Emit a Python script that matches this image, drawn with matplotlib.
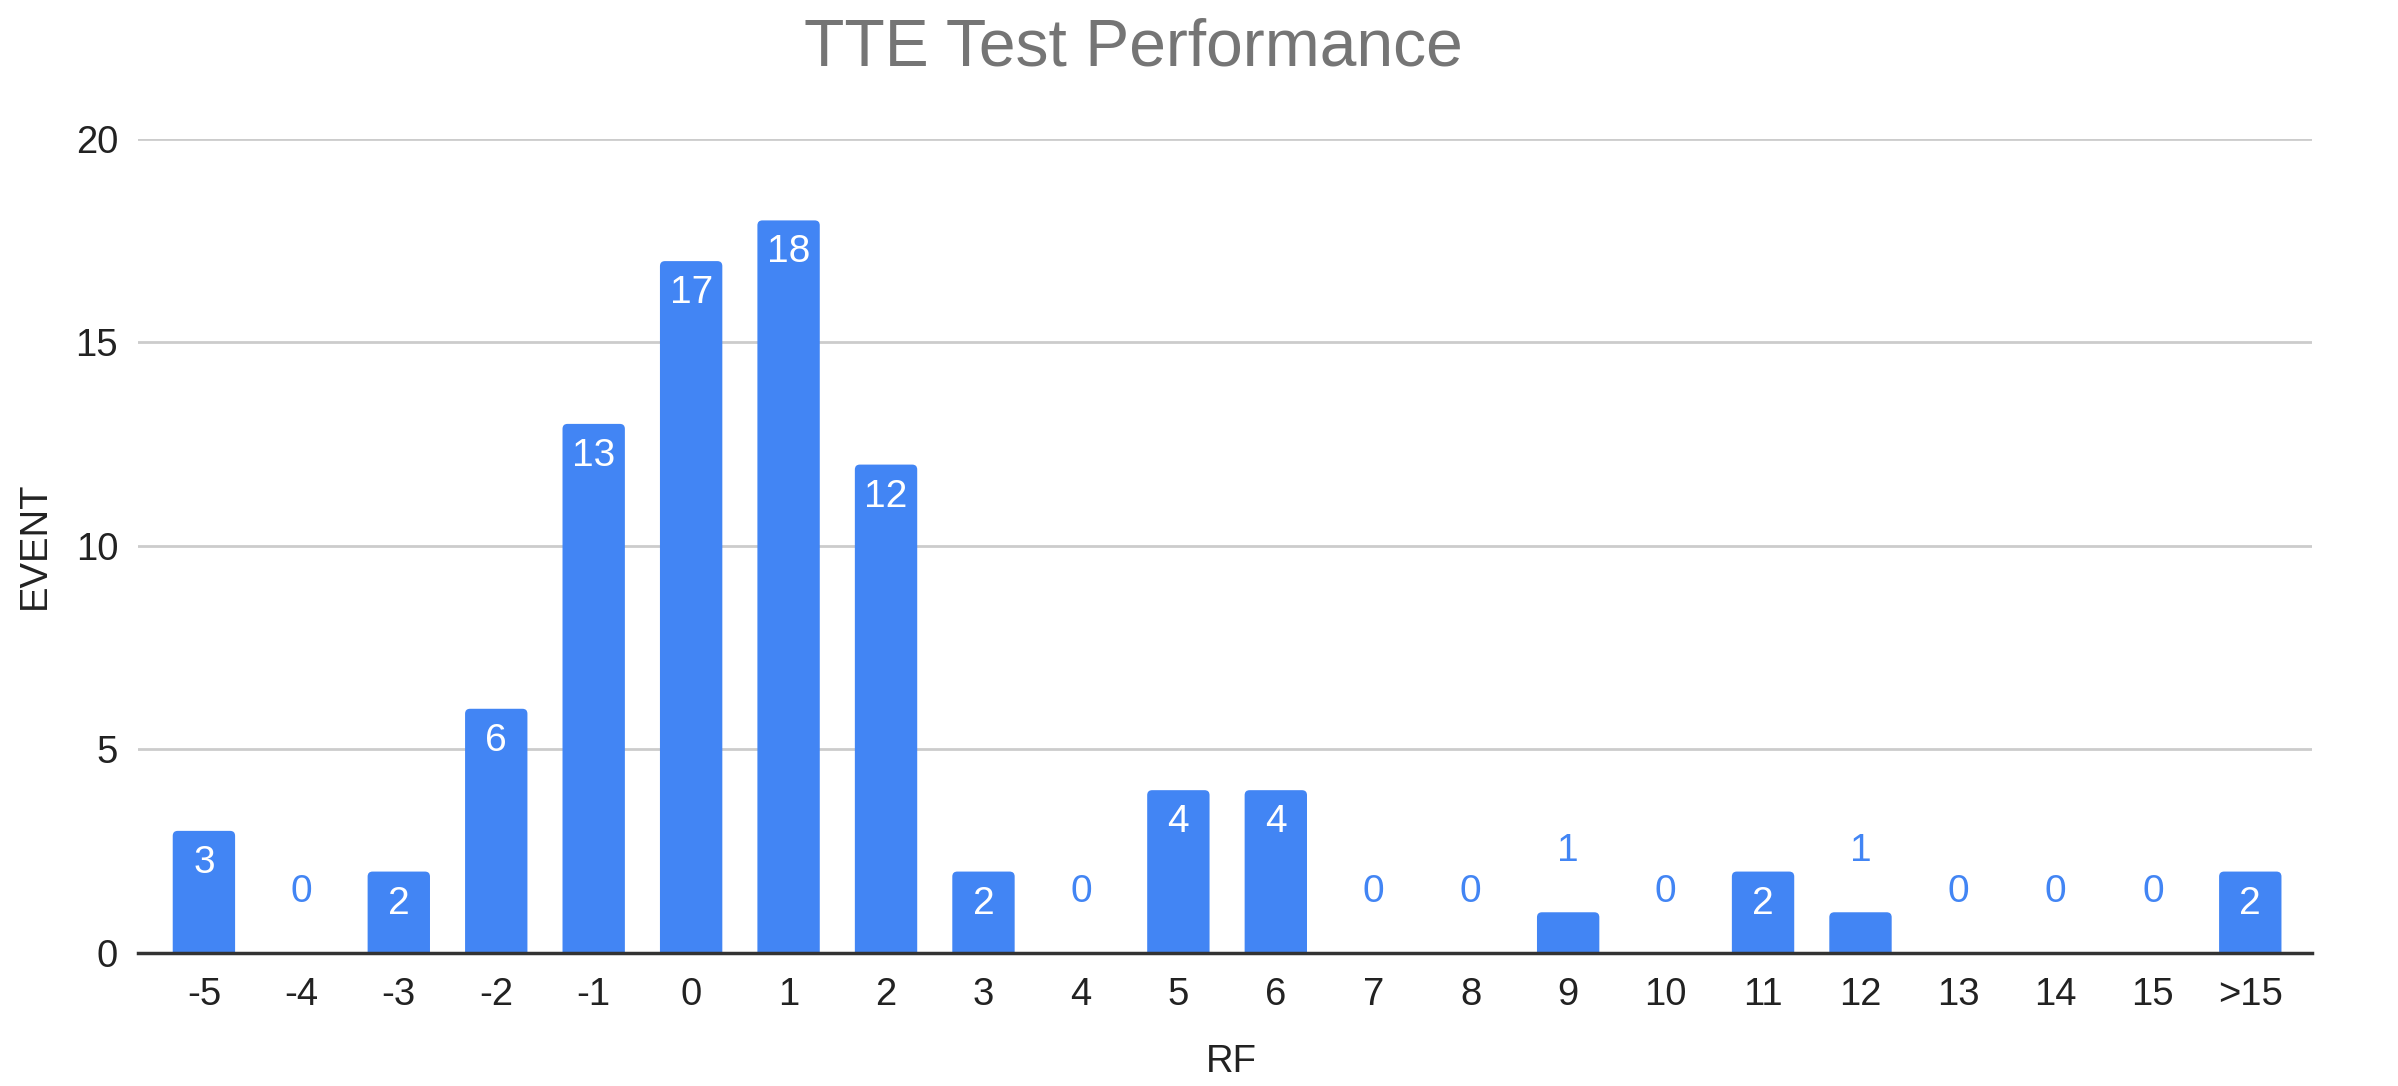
import matplotlib
matplotlib.use("Agg")
import matplotlib.pyplot as plt
from matplotlib.patches import FancyBboxPatch

categories = ["-5", "-4", "-3", "-2", "-1", "0", "1", "2", "3", "4", "5", "6",
              "7", "8", "9", "10", "11", "12", "13", "14", "15", ">15"]
events = [3, 0, 2, 6, 13, 17, 18, 12, 2, 0, 4, 4, 0, 0, 1, 0, 2, 1, 0, 0, 0, 2]
yticks = [0, 5, 10, 15, 20]

plt.rcParams['font.family'] = ['Liberation Sans', 'DejaVu Sans']
BLUE = "#4285F4"
TXT = "#222222"

fig = plt.figure(figsize=(23.98, 10.86), dpi=100)
ax = fig.add_axes([0.0574, 0.1225, 0.9066, 0.7495])

x = list(range(len(categories)))
ax.set_xlim(-0.68, len(categories) - 1 + 0.63)
ax.set_ylim(0, 20)

bars = ax.bar(x, events, width=0.64, color=BLUE, zorder=3)

# rounded top corners: rebuild each bar from its own geometry
fig.canvas.draw()
bb = ax.get_window_extent()
xpp = (ax.get_xlim()[1] - ax.get_xlim()[0]) / bb.width
ypp = (ax.get_ylim()[1] - ax.get_ylim()[0]) / bb.height
r = 5 * xpp
for rect in bars:
    h = rect.get_height()
    if h <= 0:
        continue
    rect.set_visible(False)
    ext = 0.5
    p = FancyBboxPatch((rect.get_x(), -ext), rect.get_width(), h + ext,
                       boxstyle=f"round,pad=0,rounding_size={r}",
                       mutation_aspect=ypp / xpp,
                       facecolor=BLUE, edgecolor="none", zorder=3)
    ax.add_patch(p)

for xi, v in zip(x, events):
    if v >= 2:
        ax.annotate(str(v), (xi, v), xytext=(0, -23), textcoords="offset points",
                    ha="center", va="center", color="white", fontsize=28, zorder=4)
    else:
        ax.annotate(str(v), (xi, v), xytext=(0, 44), textcoords="offset points",
                    ha="center", va="center", color=BLUE, fontsize=28, zorder=4)

ax.set_yticks(yticks)
ax.set_xticks(x)
ax.set_xticklabels(categories)
ax.tick_params(axis="both", length=0, labelsize=27.5, colors=TXT)
ax.tick_params(axis="x", pad=17)
ax.tick_params(axis="y", pad=14)
ax.grid(axis="y", color="#cccccc", linewidth=2, zorder=0)
for s in ["top", "right", "left"]:
    ax.spines[s].set_visible(False)
ax.spines["bottom"].set_color("#333333")
ax.spines["bottom"].set_linewidth(2.5)
ax.spines["bottom"].set_zorder(5)

fig.text(0.4726, 0.955, "TTE Test Performance", fontsize=47.5, color="#757575",
         ha="center", va="center")
ax.set_xlabel("RF", fontsize=27.5, color=TXT)
ax.xaxis.set_label_coords(0.503, -0.134)
ax.xaxis.label.set_va("center")
ax.set_ylabel("EVENT", fontsize=27.5, color=TXT)
ax.yaxis.set_label_coords(-0.0474, 0.501)
ax.yaxis.label.set_va("center")

fig.savefig("out.png", dpi=100, facecolor="white")
